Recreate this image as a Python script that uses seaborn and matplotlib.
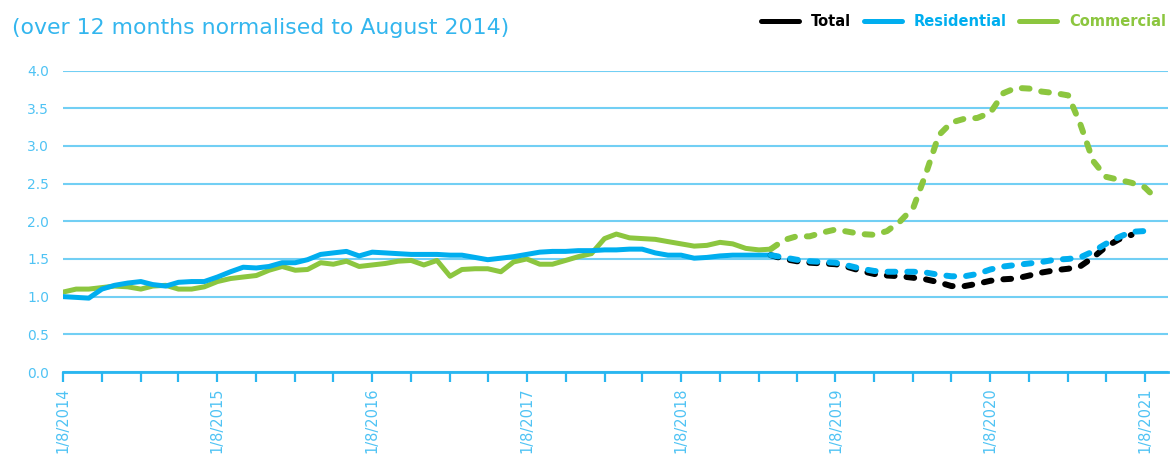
import matplotlib
matplotlib.use("Agg")
import matplotlib.pyplot as plt
from matplotlib.lines import Line2D
import seaborn as sns
import pandas as pd
import numpy as np

# ---------------- data ----------------
start_month = "2014-08-01"
n_months = 86
proj_start = 55  # index where the projected (dashed) part begins

residential_actual = [1.00, 0.99, 0.98, 1.10, 1.15, 1.18, 1.20, 1.16, 1.14, 1.19,
                      1.20, 1.20, 1.26, 1.33, 1.39, 1.38, 1.40, 1.45, 1.45, 1.49,
                      1.56, 1.58, 1.60, 1.54, 1.59, 1.58, 1.57, 1.56, 1.56, 1.56,
                      1.55, 1.55, 1.52, 1.49, 1.51, 1.53, 1.56, 1.59, 1.60, 1.60,
                      1.61, 1.61, 1.62, 1.62, 1.63, 1.63, 1.58, 1.55, 1.55, 1.51,
                      1.52, 1.54, 1.55, 1.55, 1.55, 1.55]
commercial_actual = [1.06, 1.10, 1.10, 1.12, 1.14, 1.13, 1.10, 1.14, 1.15, 1.10,
                     1.10, 1.13, 1.20, 1.24, 1.26, 1.28, 1.35, 1.40, 1.35, 1.36,
                     1.45, 1.43, 1.47, 1.40, 1.42, 1.44, 1.47, 1.48, 1.42, 1.48,
                     1.27, 1.36, 1.37, 1.37, 1.33, 1.46, 1.50, 1.43, 1.43, 1.48,
                     1.53, 1.57, 1.77, 1.83, 1.78, 1.77, 1.76, 1.73, 1.70, 1.67,
                     1.68, 1.72, 1.70, 1.64, 1.62, 1.63]
total_forecast = [1.55, 1.50, 1.47, 1.45, 1.44, 1.43, 1.39, 1.34, 1.30, 1.28,
                  1.27, 1.25, 1.23, 1.19, 1.14, 1.14, 1.17, 1.21, 1.23, 1.24,
                  1.28, 1.32, 1.35, 1.37, 1.40, 1.52, 1.66, 1.76, 1.82]
residential_forecast = [1.55, 1.52, 1.49, 1.47, 1.46, 1.45, 1.41, 1.37, 1.34, 1.33,
                        1.33, 1.33, 1.32, 1.29, 1.27, 1.27, 1.30, 1.36, 1.40, 1.42,
                        1.44, 1.46, 1.49, 1.50, 1.52, 1.60, 1.70, 1.79, 1.86, 1.87]
commercial_forecast = [1.63, 1.75, 1.80, 1.80, 1.85, 1.89, 1.86, 1.83, 1.82, 1.87,
                       2.00, 2.18, 2.62, 3.14, 3.31, 3.36, 3.37, 3.44, 3.70, 3.77,
                       3.76, 3.72, 3.70, 3.67, 3.30, 2.80, 2.59, 2.55, 2.51, 2.45,
                       2.28]
y_ticks = [0.0, 0.5, 1.0, 1.5, 2.0, 2.5, 3.0, 3.5, 4.0]
series_names = ["Total", "Residential", "Commercial"]
title_text = "(over 12 months normalised to August 2014)"

# ---------------- styling ----------------
c_total = "#000000"
c_res = "#00AEEF"
c_com = "#8CC63F"
c_grid = "#72CFF4"
c_axis = "#29B6F0"
c_text = "#4FC3F4"
c_title = "#33B6EE"

months = pd.date_range(start_month, periods=n_months, freq="MS")


def frame(values, offset):
    return pd.DataFrame({"date": months[offset:offset + len(values)],
                         "value": values})


sns.set_theme(style="white")
plt.rcParams["font.family"] = ["DejaVu Sans"]

fig = plt.figure(figsize=(11.71, 4.57), dpi=100)
W, H = 1171, 457
ax = fig.add_axes([63 / W, 1 - 372 / H, (1168 - 63) / W, (372 - 70.5) / H])

solid_lw = 3.6
dash_lw = 4.3
dash_style = (0, (1.3, 2.0))

# actual (solid)
sns.lineplot(data=frame(commercial_actual, 0), x="date", y="value", ax=ax,
             color=c_com, linewidth=solid_lw, solid_capstyle="round", zorder=3)
sns.lineplot(data=frame(residential_actual, 0), x="date", y="value", ax=ax,
             color=c_res, linewidth=solid_lw, solid_capstyle="round", zorder=4)
# forecast (dashed)
sns.lineplot(data=frame(commercial_forecast, proj_start), x="date", y="value", ax=ax,
             color=c_com, linewidth=dash_lw, linestyle=dash_style,
             dash_capstyle="round", zorder=3)
sns.lineplot(data=frame(total_forecast, proj_start), x="date", y="value", ax=ax,
             color=c_total, linewidth=dash_lw, linestyle=dash_style,
             dash_capstyle="round", zorder=4)
sns.lineplot(data=frame(residential_forecast, proj_start), x="date", y="value", ax=ax,
             color=c_res, linewidth=dash_lw, linestyle=dash_style,
             dash_capstyle="round", zorder=5)

# axes
ax.set_ylim(0, 4)
ax.set_xlim(pd.Timestamp("2014-08-01"), pd.Timestamp("2021-09-25"))
ax.set_yticks(y_ticks)
ax.set_yticklabels([f"{v:.1f}" for v in y_ticks])
ax.yaxis.grid(True, color=c_grid, linewidth=1.5)
ax.xaxis.grid(False)
ax.set_xlabel("")
ax.set_ylabel("")
for s in ["top", "right", "left"]:
    ax.spines[s].set_visible(False)
ax.spines["bottom"].set_color(c_axis)
ax.spines["bottom"].set_linewidth(2.0)
ax.spines["bottom"].set_zorder(2)

qticks = pd.date_range("2014-08-01", "2021-08-01", freq="3MS")
ax.set_xticks(qticks)
ax.set_xticklabels([f"1/8/{d.year}" if d.month == 8 else "" for d in qticks],
                   rotation=90, va="top", ha="center")
ax.tick_params(axis="x", direction="out", length=7, width=1.6, color=c_axis,
               labelcolor=c_text, labelsize=10.5, pad=4, bottom=True)
ax.tick_params(axis="y", length=0, labelcolor=c_text, labelsize=10, pad=10)

# title
fig.text(12 / W, 1 - 28 / H, title_text, color=c_title, fontsize=15.8,
         ha="left", va="center")

# legend
handles = [Line2D([0], [0], color=c_total, lw=solid_lw, solid_capstyle="round"),
           Line2D([0], [0], color=c_res, lw=solid_lw, solid_capstyle="round"),
           Line2D([0], [0], color=c_com, lw=solid_lw, solid_capstyle="round")]
leg = fig.legend(handles, series_names, loc="center right",
                 bbox_to_anchor=(1166 / W, 1 - 22 / H), ncol=3, frameon=False,
                 handlelength=2.6, handletextpad=0.8, columnspacing=0.9,
                 borderaxespad=0, borderpad=0,
                 prop={"weight": "bold", "size": 10.5})
for t, c in zip(leg.get_texts(), [c_total, c_res, c_com]):
    t.set_color(c)

fig.savefig("out.png", dpi=100)
